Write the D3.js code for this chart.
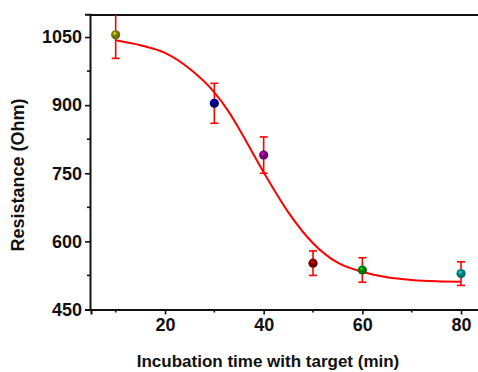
<!DOCTYPE html>
<html>
<head>
<meta charset="utf-8">
<script src="https://cdn.jsdelivr.net/npm/d3@7"></script>
<style>
  body { margin: 0; background: #fff; }
  svg { display: block; }
  text { font-family: "Liberation Sans", Arial, sans-serif; font-weight: bold; fill: #111; }
</style>
</head>
<body>
<svg id="chart" width="478" height="372"></svg>
<script>
// measured points (min, Ohm) with error bars
let times = [10, 30, 40, 50, 60, 80]
let resist = [1055, 904, 790, 552, 537, 529]
let errs = [52, 44, 40, 27, 27, 26]
let colors = ["#808000", "#000080", "#800080", "#800000", "#008000", "#008080"]

// fitted sigmoid
let fitX = [10, 15, 20, 25, 30, 33, 35, 40, 45, 50, 55, 60, 65, 70, 75, 80]
let fitY = [1043, 1032, 1015, 980, 928, 884, 848, 752, 664, 596, 553, 533, 521, 515, 512, 511]

let xTicks = [20, 40, 60, 80]
let yTicks = [450, 600, 750, 900, 1050]

let svg = d3.select("#chart")
let x = d3.scaleLinear().domain([5, 85]).range([91, 485.7])
let y = d3.scaleLinear().domain([450, 1100]).range([309.5, 14.3])

let defs = svg.append("defs")
defs.append("clipPath").attr("id", "plot")
  .append("rect")
  .attr("x", 90).attr("y", 15).attr("width", 400).attr("height", 295)

colors.forEach((c, i) => {
  let g = defs.append("radialGradient")
    .attr("id", "ball" + i)
    .attr("cx", "40%").attr("cy", "35%").attr("r", "65%")
  g.append("stop").attr("offset", "0%").attr("stop-color", d3.color(c).brighter(2.2))
  g.append("stop").attr("offset", "35%").attr("stop-color", c)
  g.append("stop").attr("offset", "100%").attr("stop-color", d3.color(c).darker(0.8))
})

// axes
let xAxis = svg.append("g")
  .attr("transform", "translate(0,309.5)")
  .call(d3.axisBottom(x).tickValues(xTicks).tickSize(5).tickPadding(4))
xAxis.append("g").selectAll("line")
  .data([10, 30, 50, 70]).enter()
  .append("line")
  .attr("x1", d => x(d)).attr("x2", d => x(d))
  .attr("y1", 0).attr("y2", 3)
  .attr("stroke", "#111").attr("stroke-width", 1.6)

let yAxis = svg.append("g")
  .attr("transform", "translate(90,0)")
  .call(d3.axisLeft(y).tickValues(yTicks).tickFormat(d3.format("d")).tickSize(5).tickPadding(3))
yAxis.append("g").selectAll("line")
  .data([525, 675, 825, 975]).enter()
  .append("line")
  .attr("y1", d => y(d)).attr("y2", d => y(d))
  .attr("x1", 0).attr("x2", -3)
  .attr("stroke", "#111").attr("stroke-width", 1.6)

svg.selectAll(".domain").attr("stroke", "#111").attr("stroke-width", 2)
svg.selectAll(".tick line").attr("stroke", "#111").attr("stroke-width", 1.6)
svg.selectAll(".tick text").attr("font-size", 18).style("fill", "#111")

// top frame line
svg.append("line")
  .attr("x1", 89).attr("x2", 478).attr("y1", 15).attr("y2", 15)
  .attr("stroke", "#111").attr("stroke-width", 2)

let plot = svg.append("g").attr("clip-path", "url(#plot)")

// error bars
let bars = plot.append("g").attr("stroke", "#f00").attr("stroke-width", 1.6)
times.forEach((t, i) => {
  let cx = x(t), top = y(resist[i] + errs[i]), bot = y(resist[i] - errs[i])
  bars.append("line").attr("x1", cx).attr("x2", cx).attr("y1", top).attr("y2", bot)
  bars.append("line").attr("x1", cx - 4).attr("x2", cx + 4).attr("y1", top).attr("y2", top)
  bars.append("line").attr("x1", cx - 4).attr("x2", cx + 4).attr("y1", bot).attr("y2", bot)
})

// fit curve
let line = d3.line()
  .x(d => x(d[0]))
  .y(d => y(d[1]))
  .curve(d3.curveMonotoneX)
plot.append("path")
  .datum(d3.zip(fitX, fitY))
  .attr("d", line)
  .attr("fill", "none")
  .attr("stroke", "#f00")
  .attr("stroke-width", 2)

// points
plot.selectAll("circle")
  .data(times).enter()
  .append("circle")
  .attr("cx", d => x(d))
  .attr("cy", (d, i) => y(resist[i]))
  .attr("r", 4.6)
  .attr("fill", (d, i) => `url(#ball${i})`)

// titles
svg.append("text")
  .attr("x", 268).attr("y", 367)
  .attr("text-anchor", "middle")
  .attr("font-size", 17)
  .text("Incubation time with target (min)")

svg.append("text")
  .attr("transform", "translate(24,175)rotate(-90)")
  .attr("text-anchor", "middle")
  .attr("font-size", 18)
  .text("Resistance (Ohm)")
</script>
</body>
</html>
